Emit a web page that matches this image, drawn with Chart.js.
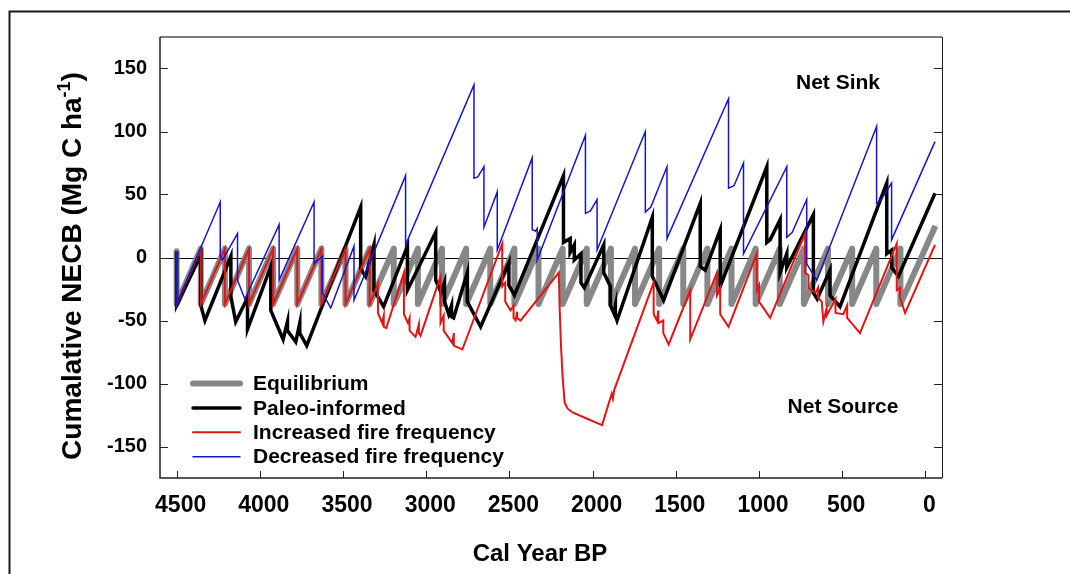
<!DOCTYPE html>
<html>
<head>
<meta charset="utf-8">
<title>Cumulative NECB</title>
<script src="https://cdn.jsdelivr.net/npm/chart.js@4.4.1/dist/chart.umd.min.js"></script>
<style>
  html, body { margin: 0; padding: 0; background: #fff; }
  #wrap { width: 1070px; height: 574px; }
</style>
</head>
<body>
<div id="wrap"><canvas id="necbChart" width="1070" height="574"></canvas></div>
<script>
// Axis ticks
const xTickValues = [4500, 4000, 3500, 3000, 2500, 2000, 1500, 1000, 500, 0];
const yTickValues = [-150, -100, -50, 0, 50, 100, 150];

const seriesLabels = ["Equilibrium", "Paleo-informed", "Increased fire frequency", "Decreased fire frequency"];

// [cal year BP, cumulative NECB]
const equilibrium = [
  [4500, 5], [4500, -37], [4355, 7], [4355, -37], [4210, 7], [4210, -37], [4065, 7], [4065, -37],
  [3920, 7], [3920, -37], [3775, 7], [3775, -37], [3630, 7], [3630, -37], [3485, 7], [3485, -37],
  [3340, 7], [3340, -37], [3195, 7], [3195, -37], [3050, 7], [3050, -37], [2905, 7], [2905, -37],
  [2760, 7], [2760, -37], [2615, 7], [2615, -37], [2470, 7], [2470, -37], [2325, 7], [2325, -37],
  [2180, 7], [2180, -37], [2035, 7], [2035, -37], [1890, 7], [1890, -37], [1745, 7], [1745, -37],
  [1600, 7], [1600, -37], [1455, 7], [1455, -37], [1310, 7], [1310, -37], [1165, 7], [1165, -37],
  [1020, 7], [1020, -37], [875, 7], [875, -37], [730, 7], [730, -37], [585, 7], [585, -37],
  [440, 7], [440, -37], [295, 7], [295, -37], [150, 7], [150, -37], [-60, 25]
];

const paleoInformed = [
  [4500, 5], [4500, -38], [4355, 2], [4355, -38], [4330, -50], [4174, 1], [4174, -31], [4145, -51],
  [4074, -32], [4074, -57], [3934, -7], [3934, -42], [3860, -65], [3834, -51], [3834, -58], [3784, -67],
  [3760, -52], [3760, -60], [3718, -70], [3394, 40], [3394, -9], [3364, -15], [3314, 10], [3314, -26],
  [3256, -39], [3113, 9], [3113, -26], [2943, 20], [2943, -18], [2910, -28], [2890, -20], [2890, -35],
  [2865, -45], [2848, -38], [2848, -47], [2835, -48], [2753, -12], [2753, -35], [2673, -55], [2503, -4],
  [2503, -22], [2470, -30], [2175, 65], [2175, 12], [2135, 15], [2135, 4], [2110, 10], [2110, -2],
  [2070, 3], [2070, -20], [2050, -24], [1933, 10], [1933, -12], [1893, -23], [1893, -38], [1873, -44],
  [1863, -38], [1863, -46], [1853, -50], [1641, 32], [1641, -15], [1573, -34], [1353, 43], [1353, -7],
  [1323, -10], [1233, 22], [1233, -23], [953, 72], [953, 12], [933, 14], [873, 30], [873, -12],
  [833, 3], [833, -8], [673, 34], [673, -28], [650, -33], [573, -10], [573, -30], [513, -39],
  [232, 59], [232, 3], [202, 6], [202, -8], [162, -15], [-58, 51]
];

const increasedFire = [
  [4500, 5], [4500, -37], [4355, 7], [4355, -37], [4210, 7], [4210, -37], [4065, 7], [4065, -37],
  [3920, 7], [3920, -37], [3775, 7], [3775, -37], [3630, 7], [3630, -37], [3485, 7], [3485, -37],
  [3340, 7], [3340, -37], [3290, -21], [3290, -44], [3265, -52], [3255, -46], [3255, -55], [3240, -56],
  [3134, -12], [3134, -45], [3110, -52], [3100, -48], [3100, -58], [3064, -63], [3044, -53], [3044, -60],
  [3034, -62], [2914, -15], [2914, -52], [2895, -46], [2895, -58], [2843, -68], [2834, -60], [2834, -70],
  [2783, -73], [2543, 11], [2543, -23], [2525, -20], [2525, -35], [2493, -42], [2475, -38], [2475, -48],
  [2463, -50], [2453, -43], [2453, -48], [2433, -50], [2203, -12], [2198, -40], [2190, -70], [2180, -95],
  [2168, -115], [2150, -120], [2120, -123], [2050, -127], [1943, -133], [1885, -108], [1878, -112], [1870, -105],
  [1633, -20], [1633, -45], [1613, -50], [1605, -42], [1605, -52], [1575, -50], [1575, -60], [1543, -69],
  [1413, -26], [1413, -65], [1253, -12], [1253, -30], [1233, -24], [1233, -45], [1183, -55], [1013, 3],
  [1013, -26], [1000, -22], [1000, -35], [963, -42], [933, -48], [723, 19], [723, -12], [703, -14],
  [703, -24], [660, -28], [645, -24], [645, -32], [623, -35], [613, -51], [593, -40], [593, -46],
  [540, -33], [540, -44], [493, -45], [470, -38], [470, -48], [393, -60], [172, 11], [172, -26],
  [152, -24], [152, -32], [122, -44], [-58, 10]
];

const decreasedFire = [
  [4500, 5], [4500, -37], [4238, 44], [4238, 1], [4225, -2], [4134, 19], [4134, -18], [4090, -33],
  [3884, 26], [3884, -18], [3674, 44], [3674, -5], [3624, 1], [3624, -28], [3574, -40], [3434, 9],
  [3434, -34], [3124, 65], [3124, 10], [2713, 137], [2713, 63], [2690, 64], [2653, 72], [2653, 24],
  [2573, 52], [2573, 6], [2363, 79], [2363, 22], [2343, 21], [2333, 23], [2333, -2], [2043, 97],
  [2043, 35], [2013, 37], [1973, 46], [1973, 6], [1683, 100], [1683, 36], [1650, 40], [1553, 72],
  [1553, 15], [1183, 126], [1183, 55], [1150, 57], [1093, 75], [1093, 3], [833, 72], [833, 16],
  [800, 20], [713, 46], [713, -5], [653, -18], [293, 104], [293, 43], [270, 45], [203, 59],
  [203, 14], [-58, 92]
];

const FONT = "Arial, 'Liberation Sans', Helvetica, sans-serif";

function toPoints(series) {
  return series.map(([x, y]) => ({ x: x, y: y }));
}

// frame, inside ticks, zero line, titles, notes and legend
const decorations = {
  id: "decorations",
  beforeDatasetsDraw(chart) {
    const { ctx, chartArea, scales } = chart;
    const y0 = Math.round(scales.y.getPixelForValue(0)) + 0.5;
    ctx.save();
    ctx.strokeStyle = "#000";
    ctx.lineWidth = 1;
    ctx.beginPath();
    ctx.moveTo(chartArea.left, y0);
    ctx.lineTo(chartArea.right, y0);
    ctx.stroke();
    ctx.restore();
  },
  afterDraw(chart) {
    const { ctx, chartArea, scales } = chart;
    const { left, right, top, bottom } = chartArea;
    ctx.save();

    // outer figure border
    ctx.strokeStyle = "#1a1a1a";
    ctx.lineWidth = 2;
    ctx.beginPath();
    ctx.moveTo(9.5, 574);
    ctx.lineTo(9.5, 11.5);
    ctx.lineTo(1070, 11.5);
    ctx.stroke();

    // plot frame
    ctx.strokeStyle = "#7a7a7a";
    ctx.lineWidth = 2;
    ctx.beginPath();
    ctx.moveTo(left, top);
    ctx.lineTo(right, top);
    ctx.stroke();
    ctx.strokeStyle = "#222";
    ctx.lineWidth = 1.5;
    ctx.beginPath();
    ctx.moveTo(left, top);
    ctx.lineTo(left, bottom);
    ctx.lineTo(right, bottom);
    ctx.stroke();
    ctx.lineWidth = 1;
    ctx.beginPath();
    ctx.moveTo(right + 0.5, top);
    ctx.lineTo(right + 0.5, bottom);
    ctx.stroke();

    // inside ticks
    ctx.lineWidth = 1;
    ctx.beginPath();
    yTickValues.forEach((v) => {
      const py = Math.round(scales.y.getPixelForValue(v)) + 0.5;
      ctx.moveTo(left, py);
      ctx.lineTo(left + 8, py);
      ctx.moveTo(right, py);
      ctx.lineTo(right - 8, py);
    });
    xTickValues.forEach((v) => {
      const px = Math.round(scales.x.getPixelForValue(v)) + 0.5;
      ctx.moveTo(px, bottom);
      ctx.lineTo(px, bottom - 7);
    });
    ctx.stroke();

    ctx.fillStyle = "#000";

    // x title
    ctx.font = "bold 24px " + FONT;
    ctx.textAlign = "center";
    ctx.textBaseline = "alphabetic";
    ctx.fillText("Cal Year BP", 540, 561);

    // y title with superscript
    const mainText = "Cumalative NECB (Mg C ha";
    const supText = "-1";
    const endText = ")";
    ctx.font = "bold 28px " + FONT;
    const wMain = ctx.measureText(mainText).width;
    const wEnd = ctx.measureText(endText).width;
    ctx.font = "bold 18px " + FONT;
    const wSup = ctx.measureText(supText).width;
    const total = wMain + wSup + wEnd;
    ctx.translate(81, 266);
    ctx.rotate(-Math.PI / 2);
    ctx.textAlign = "left";
    let cx = -total / 2;
    ctx.font = "bold 28px " + FONT;
    ctx.fillText(mainText, cx, 0);
    cx += wMain;
    ctx.font = "bold 18px " + FONT;
    ctx.fillText(supText, cx, -11);
    cx += wSup;
    ctx.font = "bold 28px " + FONT;
    ctx.fillText(endText, cx, 0);
    ctx.setTransform(1, 0, 0, 1, 0, 0);

    // notes
    ctx.font = "bold 21px " + FONT;
    ctx.textAlign = "center";
    ctx.fillText("Net Sink", 838, 89);
    ctx.fillText("Net Source", 843, 413);

    // legend
    ctx.textAlign = "left";
    ctx.textBaseline = "middle";
    ctx.font = "bold 21px " + FONT;
    chart.data.datasets.forEach((ds, i) => {
      const ly = 383.5 + i * 24.4;
      ctx.strokeStyle = ds.borderColor;
      ctx.lineWidth = ds.borderWidth;
      ctx.lineCap = "round";
      ctx.beginPath();
      ctx.moveTo(193, ly);
      ctx.lineTo(240, ly);
      ctx.stroke();
      ctx.fillText(ds.label, 253, ly + 1);
    });

    ctx.restore();
  }
};

document.addEventListener("DOMContentLoaded", function () {
  const canvas = document.getElementById("necbChart");
  const ctx = canvas.getContext("2d");

  new Chart(ctx, {
    type: "scatter",
    data: {
      datasets: [
        {
          label: seriesLabels[0],
          data: toPoints(equilibrium),
          borderColor: "#878787",
          borderWidth: 6,
          borderJoinStyle: "round",
          order: 4,
        },
        {
          label: seriesLabels[1],
          data: toPoints(paleoInformed),
          borderColor: "#000000",
          borderWidth: 3.5,
          order: 3,
        },
        {
          label: seriesLabels[2],
          data: toPoints(increasedFire),
          borderColor: "#e41414",
          borderWidth: 2,
          order: 2,
        },
        {
          label: seriesLabels[3],
          data: toPoints(decreasedFire),
          borderColor: "#1616c8",
          borderWidth: 1.5,
          order: 1,
        },
      ],
    },
    options: {
      responsive: false,
      animation: false,
      devicePixelRatio: 1,
      showLine: true,
      elements: {
        point: { radius: 0, hoverRadius: 0 },
        line: { tension: 0, fill: false },
      },
      layout: { padding: { left: 0, top: 37, right: 128, bottom: 0 } },
      plugins: {
        legend: { display: false },
        tooltip: { enabled: false },
        title: { display: false },
      },
      scales: {
        x: {
          type: "linear",
          reverse: true,
          min: -100,
          max: 4600,
          afterBuildTicks: (scale) => {
            scale.ticks = xTickValues.map((v) => ({ value: v }));
          },
          afterFit: (scale) => {
            scale.height = 96;
          },
          grid: { display: false, drawTicks: false },
          border: { display: false },
          ticks: {
            autoSkip: false,
            maxRotation: 0,
            padding: 14,
            labelOffset: 4,
            color: "#000",
            font: { family: FONT, size: 23, weight: "bold" },
            callback: (v) => String(v),
          },
        },
        y: {
          type: "linear",
          min: -175,
          max: 175,
          afterBuildTicks: (scale) => {
            scale.ticks = yTickValues.map((v) => ({ value: v }));
          },
          afterFit: (scale) => {
            scale.width = 160;
          },
          grid: { display: false, drawTicks: false },
          border: { display: false },
          ticks: {
            padding: 13,
            color: "#000",
            font: { family: FONT, size: 20, weight: "bold" },
            callback: (v) => String(v),
          },
        },
      },
    },
    plugins: [decorations],
  });
});
</script>
</body>
</html>
